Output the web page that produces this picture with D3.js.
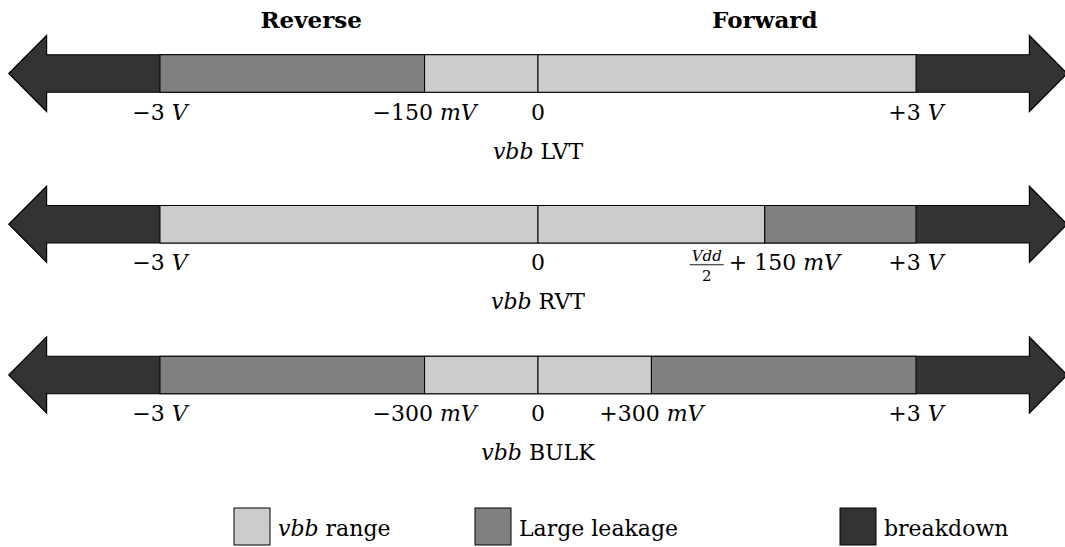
<!DOCTYPE html>
<html>
<head>
<meta charset="utf-8">
<script src="https://cdn.jsdelivr.net/npm/d3@7"></script>
<style>
  html, body { margin: 0; padding: 0; background: #fff; }
</style>
</head>
<body>
<svg id="chart" width="1065" height="547"></svg>
<script>
// ---------- data ----------
const rowNames = ["LVT", "RVT", "BULK"];
const directionTitles = ["Reverse", "Forward"];
const directionPos = [-1.8, 1.8];           // schematic positions of titles
// schematic boundaries of each row (axis is not to scale)
const lvtBounds  = [-3, -0.9, 0, 3];
const lvtKinds   = ["leak", "range", "range"];
const lvtTicks   = ["−3 V", "−150 mV", "0", "+3 V"];
const rvtBounds  = [-3, 0, 1.8, 3];
const rvtKinds   = ["range", "range", "leak"];
const rvtTicks   = ["−3 V", "0", "Vdd/2 + 150 mV", "+3 V"];
const bulkBounds = [-3, -0.9, 0, 0.9, 3];
const bulkKinds  = ["leak", "range", "range", "leak"];
const bulkTicks  = ["−3 V", "−300 mV", "0", "+300 mV", "+3 V"];
const legendKinds  = ["range", "leak", "break"];
const legendLabels = ["vbb range", "Large leakage", "breakdown"];
const arrowExtent = [-4.2, -3.9, 3.9, 4.2]; // tip, head base (schematic)

const rows = [
  {name: rowNames[0], bounds: lvtBounds,  kinds: lvtKinds,  ticks: lvtTicks},
  {name: rowNames[1], bounds: rvtBounds,  kinds: rvtKinds,  ticks: rvtTicks},
  {name: rowNames[2], bounds: bulkBounds, kinds: bulkKinds, ticks: bulkTicks}
];

// ---------- styles ----------
const FONT = "DejaVu Serif";
const color = {range: "#cccccc", leak: "#808080", break: "#333333"};
const svg = d3.select("#chart").style("font-family", FONT);
const x = d3.scaleLinear().domain([-3, 3]).range([160, 916]);
const y = d3.scalePoint().domain(rowNames).range([73.5, 375]);
const barH = 37.5, headH = 38;
const tickFont = 22, labelFont = 22;

// direction titles
svg.selectAll("text.dir").data(directionTitles).join("text")
  .attr("class", "dir")
  .style("font-family", FONT)
  .attr("x", (d, i) => x(directionPos[i]))
  .attr("y", 28)
  .attr("text-anchor", "middle")
  .attr("font-weight", "bold")
  .attr("font-size", 23)
  .text(d => d);

function tickLabel(g, label, cx, base) {
  if (label.startsWith("Vdd/2")) {
    const rest = label.replace("Vdd/2", "").trim();
    const grp = g.append("g");
    const num = grp.append("text").style("font-family", FONT).attr("font-size", 15)
      .attr("font-style", "italic").attr("text-anchor", "middle").text("Vdd");
    const fw = num.node().getComputedTextLength() + 4;
    num.attr("x", fw / 2).attr("y", base - 9);
    grp.append("line").attr("x1", 0).attr("x2", fw)
      .attr("y1", base - 5.5).attr("y2", base - 5.5)
      .attr("stroke", "#000").attr("stroke-width", 0.9);
    grp.append("text").style("font-family", FONT).attr("font-size", 15).attr("text-anchor", "middle")
      .attr("x", fw / 2).attr("y", base + 11).text("2");
    const parts = rest.split(" ");
    const main = grp.append("text").style("font-family", FONT).attr("font-size", tickFont)
      .attr("y", base).attr("x", fw + 5);
    main.append("tspan").text(parts.slice(0, -1).join(" ") + " ");
    main.append("tspan").attr("font-style", "italic").text(parts[parts.length - 1]);
    const total = fw + 5 + main.node().getComputedTextLength();
    grp.attr("transform", `translate(${cx - total / 2},0)`);
    return;
  }
  const t = g.append("text").style("font-family", FONT).attr("font-size", tickFont)
    .attr("y", base).attr("x", cx).attr("text-anchor", "middle");
  const parts = label.split(" ");
  t.append("tspan").text(parts[0]);
  if (parts.length > 1) {
    t.append("tspan").text(" ");
    t.append("tspan").attr("font-style", "italic").text(parts[1]);
  }
}

rows.forEach(r => {
  const cy = y(r.name);
  const g = svg.append("g");
  // arrow shaft + heads (breakdown)
  const tipL = x(arrowExtent[0]), baseL = x(arrowExtent[1]);
  const baseR = x(arrowExtent[2]), tipR = x(arrowExtent[3]);
  const pts = [
    [tipL, cy], [baseL, cy - headH], [baseL, cy - barH / 2], [baseR, cy - barH / 2],
    [baseR, cy - headH], [tipR, cy], [baseR, cy + headH], [baseR, cy + barH / 2],
    [baseL, cy + barH / 2], [baseL, cy + headH]
  ];
  g.append("path").attr("d", d3.line()(pts) + "Z")
    .attr("fill", color.break).attr("stroke", "#000").attr("stroke-width", 1.2)
    .attr("stroke-linejoin", "miter");
  // segments
  const segs = r.kinds.map((k, i) => ({k, a: r.bounds[i], b: r.bounds[i + 1]}));
  g.selectAll("rect.seg").data(segs).join("rect")
    .attr("x", d => x(d.a)).attr("width", d => x(d.b) - x(d.a))
    .attr("y", cy - barH / 2).attr("height", barH)
    .attr("fill", d => color[d.k]).attr("stroke", "#000").attr("stroke-width", 1);
  // tick labels
  r.ticks.forEach((lab, i) => tickLabel(g, lab, x(r.bounds[i]), cy + 46));
  // row label
  const rl = g.append("text").style("font-family", FONT).attr("x", x(0)).attr("y", cy + 85)
    .attr("text-anchor", "middle").attr("font-size", labelFont);
  rl.append("tspan").attr("font-style", "italic").text("vbb");
  rl.append("tspan").text(" " + r.name);
});

// legend
const legendX = [234, 475, 840];
const lg = svg.selectAll("g.leg").data(legendKinds).join("g")
  .attr("class", "leg")
  .attr("transform", (d, i) => `translate(${legendX[i]},508)`);
lg.append("rect").attr("width", 36).attr("height", 37)
  .attr("fill", d => color[d]).attr("stroke", "#000").attr("stroke-width", 1);
lg.each(function(d, i) {
  const t = d3.select(this).append("text").style("font-family", FONT)
    .attr("x", 44).attr("y", 28).attr("font-size", labelFont);
  const lab = legendLabels[i];
  if (lab.startsWith("vbb")) {
    t.append("tspan").attr("font-style", "italic").text("vbb");
    t.append("tspan").text(lab.slice(3));
  } else {
    t.text(lab);
  }
});
</script>
</body>
</html>
